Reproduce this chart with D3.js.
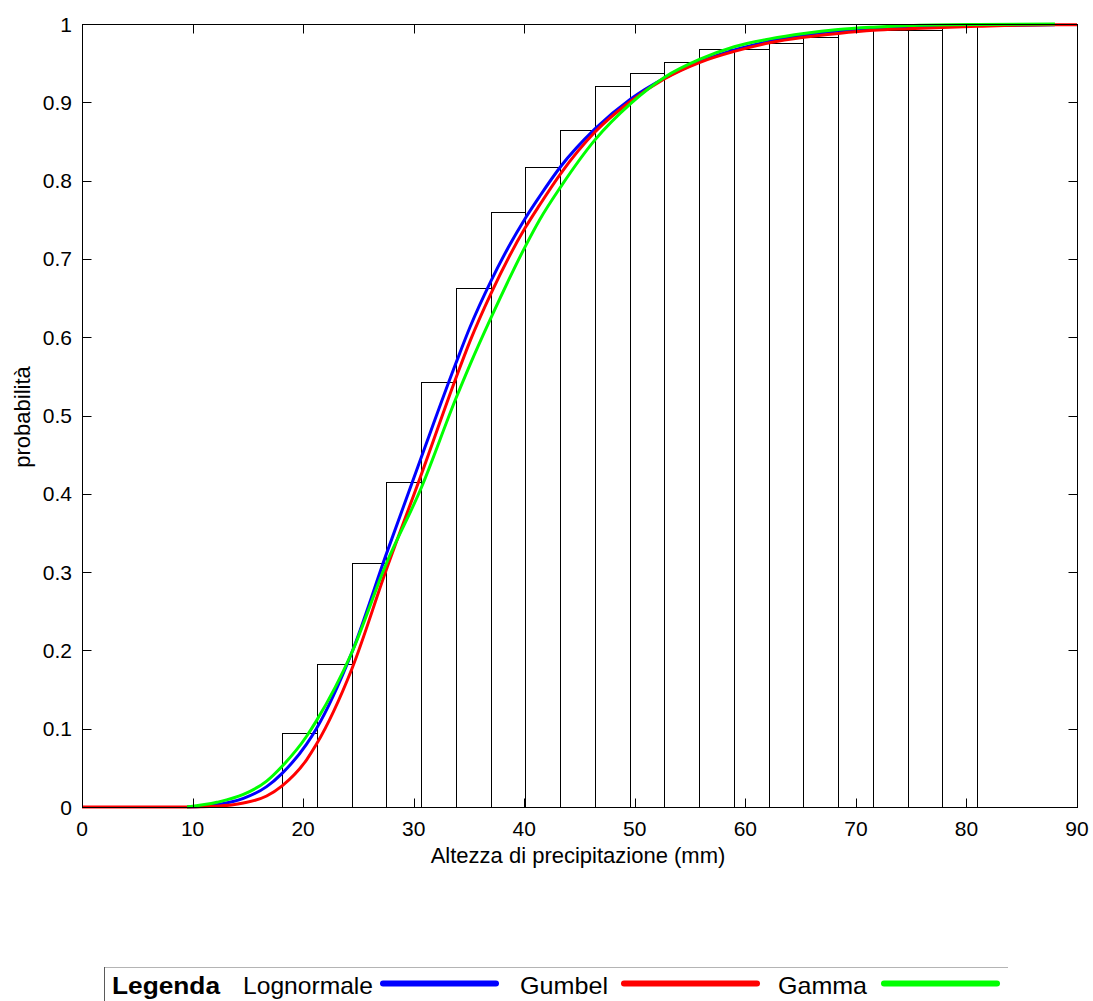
<!DOCTYPE html>
<html><head><meta charset="utf-8">
<script src="https://cdn.jsdelivr.net/npm/d3@7"></script>
<style>body{margin:0;background:#fff}svg{display:block}</style>
</head><body>
<svg id="chart" width="1093" height="1001"></svg>
<script>
// Histogram (empirical cumulative frequency)
const binEdges = [18.1, 21.24, 24.39, 27.53, 30.67, 33.82, 36.96, 40.1, 43.24, 46.39, 49.53, 52.67, 55.82, 58.96, 62.1, 65.25, 68.39, 71.53, 74.67, 77.82, 80.96];
const binFreq  = [0.095, 0.183, 0.311, 0.415, 0.543, 0.663, 0.760, 0.817, 0.865, 0.921, 0.937, 0.952, 0.968, 0.968, 0.976, 0.984, 0.992, 0.992, 0.992, 1.0];

// Fitted CDFs
const curveX     = [9.5, 12.2, 14.6, 16.7, 18.1, 20.3, 21.2, 24.4, 27.5, 30.7, 33.8, 35.1, 37.0, 40.1, 41.4, 43.3, 46.4, 49.6, 52.7, 55.9, 59.0, 62.2, 65.3, 68.4, 71.6, 74.7, 81.0, 88.0];
const lognormale = [0, 0.003, 0.011, 0.026, 0.043, 0.080, 0.100, 0.197, 0.322, 0.447, 0.566, 0.613, 0.672, 0.752, 0.780, 0.818, 0.866, 0.904, 0.931, 0.952, 0.967, 0.978, 0.986, 0.991, 0.994, 0.996, 0.998, 0.999];
const gumbelX    = [0, 9.5, 12.2, 14.6, 16.7, 18.1, 20.3, 21.2, 24.4, 27.5, 30.7, 33.8, 35.1, 37.0, 40.1, 41.4, 43.3, 46.4, 49.6, 52.7, 55.9, 59.0, 62.2, 65.3, 68.4, 71.6, 74.7, 81.0, 88.0, 90];
const gumbel     = [0, 0, 0.001, 0.005, 0.014, 0.027, 0.060, 0.080, 0.176, 0.302, 0.425, 0.547, 0.595, 0.656, 0.740, 0.769, 0.809, 0.862, 0.901, 0.930, 0.951, 0.965, 0.976, 0.983, 0.988, 0.992, 0.994, 0.997, 0.999, 0.999];
const gamma      = [0, 0.006, 0.016, 0.033, 0.052, 0.090, 0.110, 0.197, 0.310, 0.408, 0.521, 0.565, 0.625, 0.716, 0.750, 0.792, 0.852, 0.898, 0.932, 0.955, 0.971, 0.981, 0.988, 0.993, 0.996, 0.998, 0.9995, 1.0];

const xTicks = [0, 10, 20, 30, 40, 50, 60, 70, 80, 90];
const yTicks = [0, 0.1, 0.2, 0.3, 0.4, 0.5, 0.6, 0.7, 0.8, 0.9, 1];
const xTitle = "Altezza di precipitazione (mm)";
const yTitle = "probabilità";
const legendTitle = "Legenda";
const seriesNames = ["Lognormale", "Gumbel", "Gamma"];
const seriesColors = ["#0000ff", "#ff0000", "#00ff00"];

const svg = d3.select("#chart");
const L = 82, R = 1077, T = 24, B = 807;
const x = d3.scaleLinear().domain([0, 90]).range([L, R]);
const y = d3.scaleLinear().domain([0, 1]).range([B, T]);
const font = "Arial, 'Liberation Sans', Helvetica, sans-serif";

// bars
const bars = binFreq.map((f, i) => ({x0: binEdges[i], x1: binEdges[i + 1], f}));
svg.append("g").selectAll("rect").data(bars).join("rect")
  .attr("x", d => Math.round(x(d.x0)) + 0.5)
  .attr("y", d => Math.round(y(d.f)) + 0.5)
  .attr("width", d => Math.round(x(d.x1)) - Math.round(x(d.x0)))
  .attr("height", d => Math.round(y(0)) - Math.round(y(d.f)))
  .attr("fill", "none").attr("stroke", "#000").attr("stroke-width", 1);

// curves
const line = d3.line().x(d => x(d[0])).y(d => y(d[1])).curve(d3.curveMonotoneX);
const series = [
  {xs: curveX, ys: lognormale, c: seriesColors[0]},
  {xs: gumbelX, ys: gumbel, c: seriesColors[1]},
  {xs: curveX, ys: gamma, c: seriesColors[2]}
];
series.forEach(s => {
  svg.append("path").datum(s.xs.map((v, i) => [v, s.ys[i]]))
    .attr("d", line).attr("fill", "none").attr("stroke", s.c)
    .attr("stroke-width", 3).attr("stroke-linejoin", "round");
});

// axes box with inward ticks on all sides
const ax = svg.append("g");
ax.append("rect").attr("x", L + 0.5).attr("y", T + 0.5).attr("width", R - L).attr("height", B - T)
  .attr("fill", "none").attr("stroke", "#000").attr("stroke-width", 1);
const tl = 9;
xTicks.forEach(t => {
  const px = Math.round(x(t)) + 0.5;
  ax.append("line").attr("x1", px).attr("x2", px).attr("y1", B + 0.5).attr("y2", B + 0.5 - tl).attr("stroke", "#000");
  ax.append("line").attr("x1", px).attr("x2", px).attr("y1", T + 0.5).attr("y2", T + 0.5 + tl).attr("stroke", "#000");
  ax.append("text").attr("x", x(t)).attr("y", B + 29).attr("text-anchor", "middle")
    .attr("font-family", font).attr("font-size", 21).text(t);
});
yTicks.forEach(t => {
  const py = Math.round(y(t)) + 0.5;
  ax.append("line").attr("x1", L + 0.5).attr("x2", L + 0.5 + tl).attr("y1", py).attr("y2", py).attr("stroke", "#000");
  ax.append("line").attr("x1", R + 0.5).attr("x2", R + 0.5 - tl).attr("y1", py).attr("y2", py).attr("stroke", "#000");
  ax.append("text").attr("x", L - 10).attr("y", y(t) + 7.5).attr("text-anchor", "end")
    .attr("font-family", font).attr("font-size", 21).text(d3.format("~g")(t));
});
ax.append("text").attr("x", 578).attr("y", 863).attr("text-anchor", "middle")
  .attr("font-family", font).attr("font-size", 22).text(xTitle);
ax.append("text").attr("transform", "translate(30,417) rotate(-90)").attr("text-anchor", "middle")
  .attr("font-family", font).attr("font-size", 22).text(yTitle);

// legend
const lg = svg.append("g");
lg.append("line").attr("x1", 104).attr("x2", 1008).attr("y1", 967.5).attr("y2", 967.5).attr("stroke", "#b4b4b4");
lg.append("line").attr("x1", 104.5).attr("x2", 104.5).attr("y1", 967).attr("y2", 1001).attr("stroke", "#5a5a5a");
const nf = "'Liberation Sans Narrow', 'Arial Narrow', Arial, sans-serif";
lg.append("text").attr("x", 112).attr("y", 994).attr("font-family", nf).attr("font-weight", "bold")
  .attr("font-size", 24).attr("textLength", 108).attr("lengthAdjust", "spacingAndGlyphs").text(legendTitle);
const items = [
  {tx: 243, tw: 130, l0: 383, l1: 496},
  {tx: 520, tw: 88, l0: 624, l1: 757},
  {tx: 778, tw: 89, l0: 884, l1: 997}
];
items.forEach((it, i) => {
  lg.append("text").attr("x", it.tx).attr("y", 994).attr("font-family", nf)
    .attr("font-size", 24).attr("textLength", it.tw).attr("lengthAdjust", "spacingAndGlyphs").text(seriesNames[i]);
  lg.append("line").attr("x1", it.l0).attr("x2", it.l1).attr("y1", 983.5).attr("y2", 983.5)
    .attr("stroke", seriesColors[i]).attr("stroke-width", 6).attr("stroke-linecap", "round");
});
</script>
</body></html>
